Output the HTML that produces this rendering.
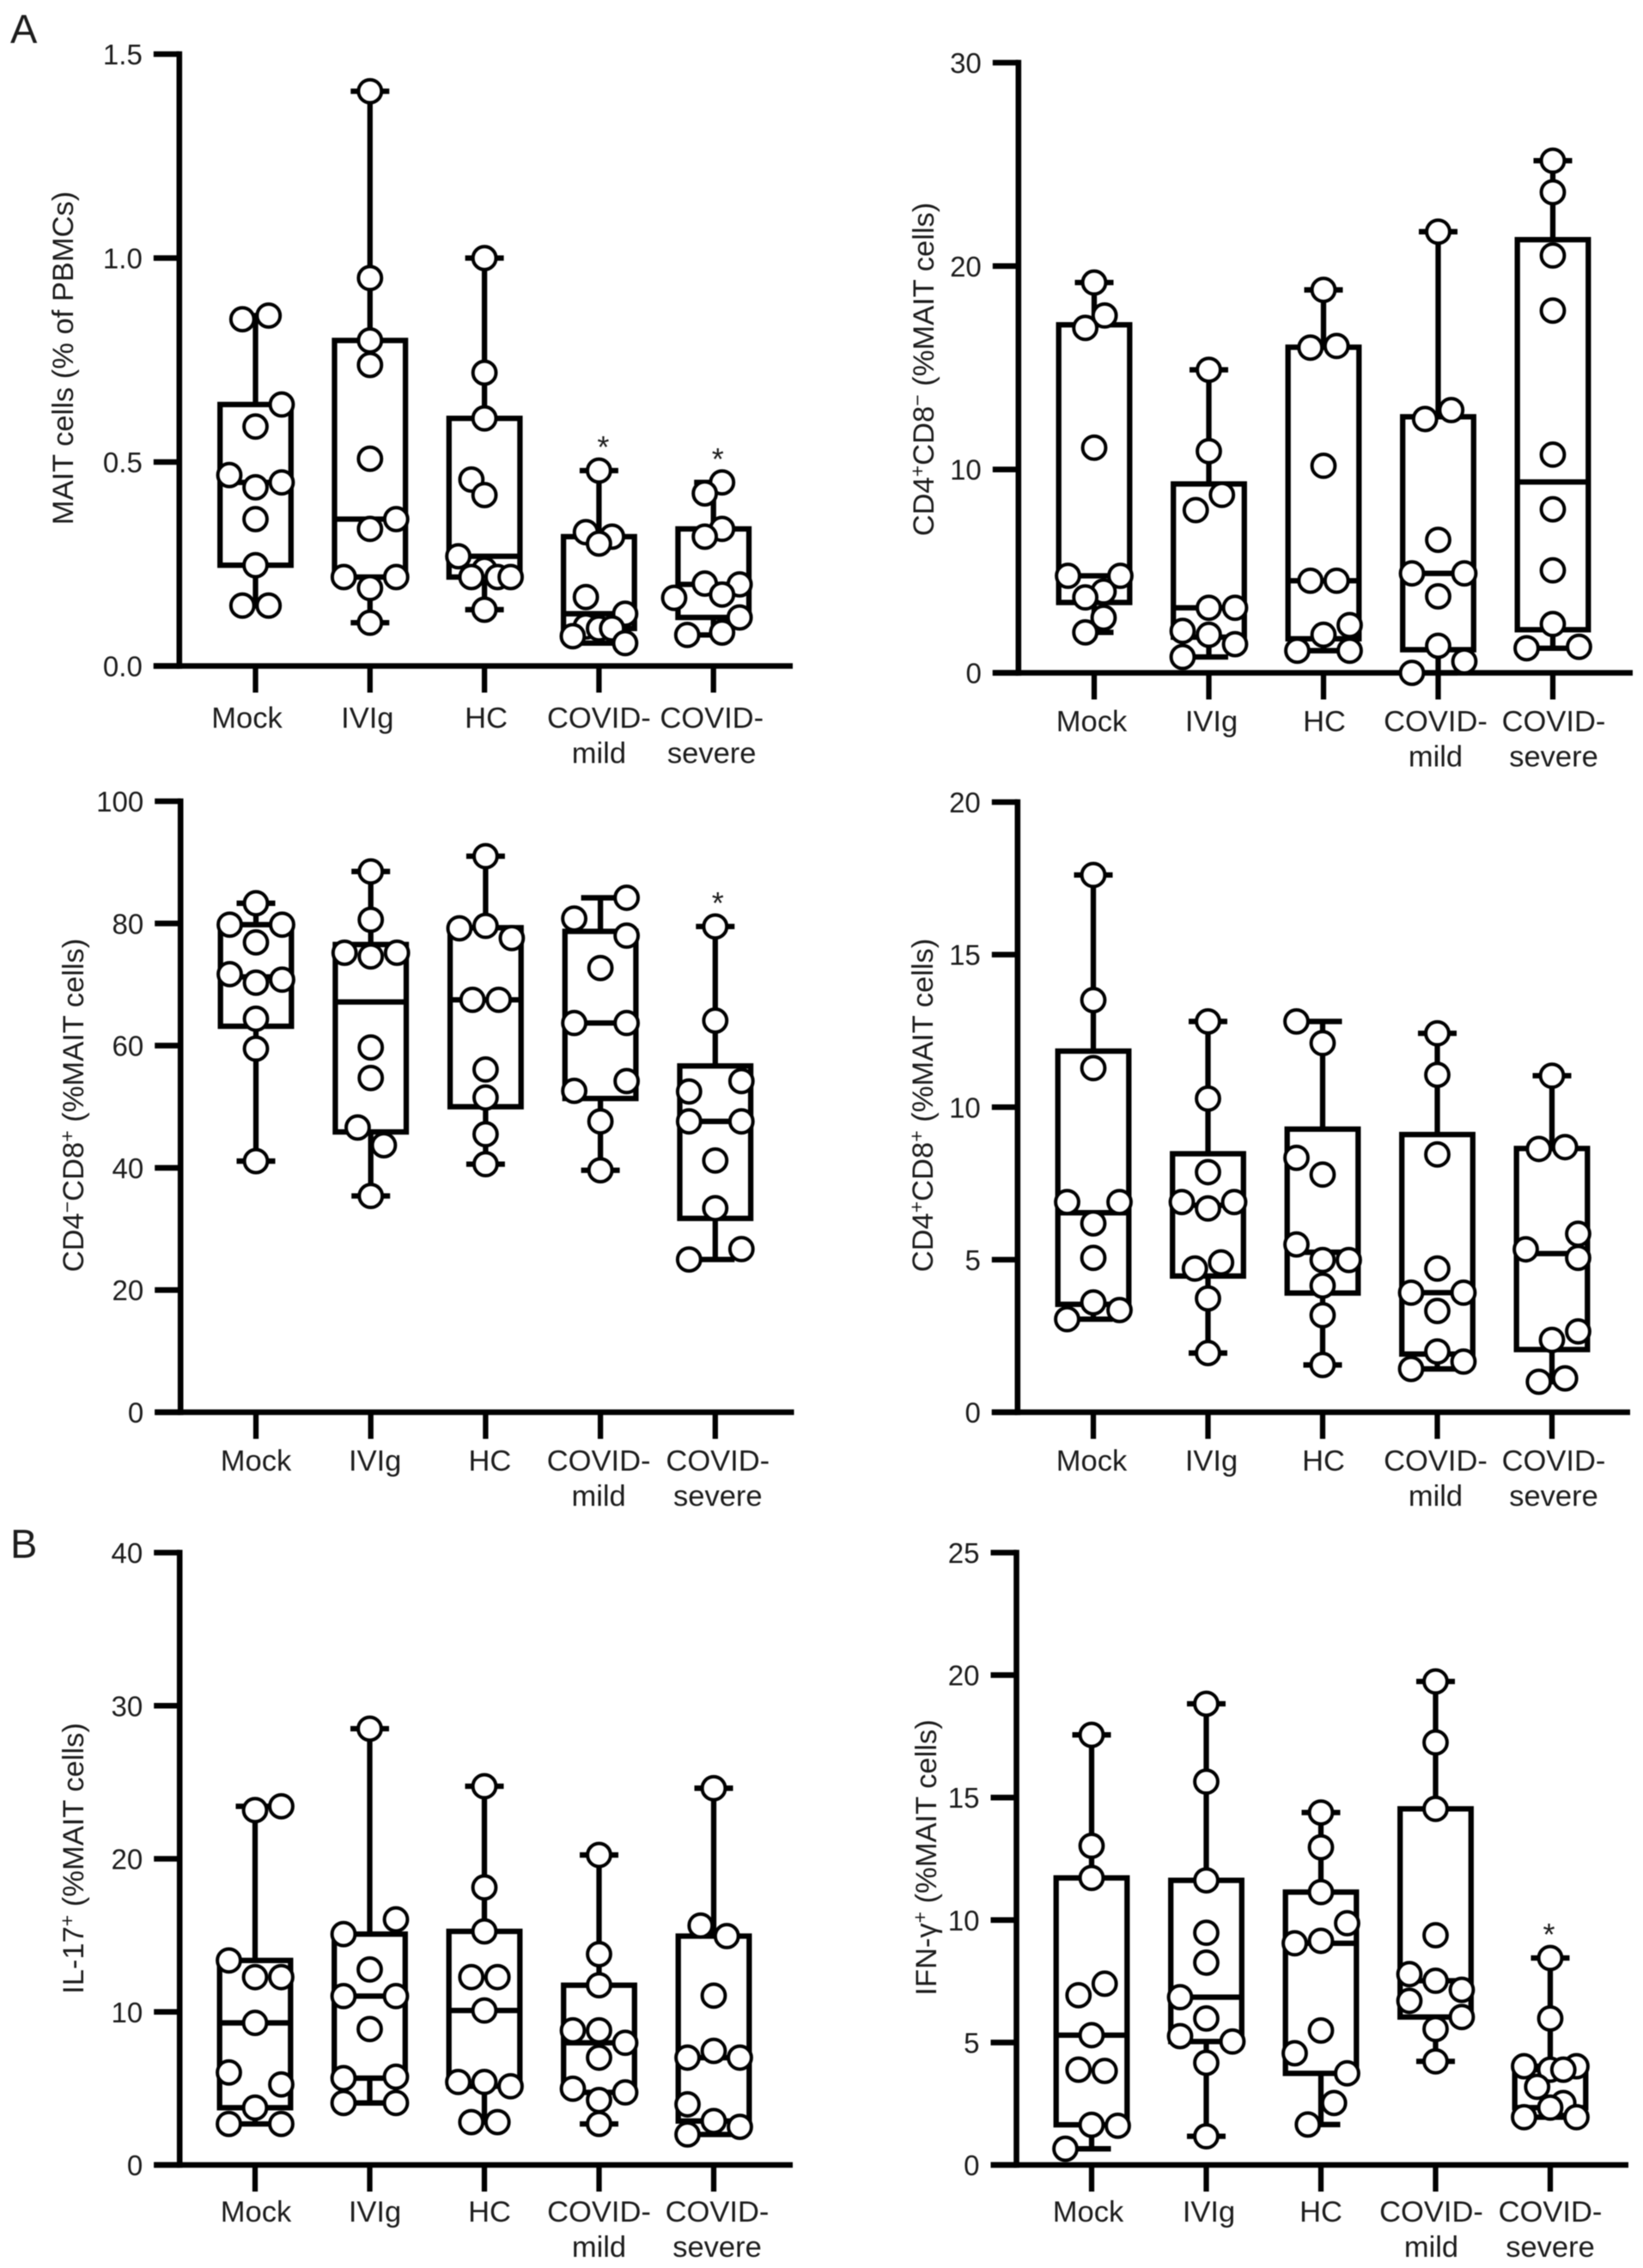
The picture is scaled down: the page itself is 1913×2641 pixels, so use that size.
<!DOCTYPE html>
<html lang="en">
<head>
<meta charset="utf-8">
<title>MAIT cell box plots</title>
<style>
html,body{margin:0;padding:0;background:#fff;}
#figure{display:block;width:1913px;height:2641px;filter:blur(0.6px);}
text{font-family:"Liberation Sans",sans-serif;fill:#1c1c1c;}
</style>
</head>
<body>
<svg id="figure" xmlns="http://www.w3.org/2000/svg" width="1913" height="2641" viewBox="0 0 1913 2641">
<rect width="1913" height="2641" fill="#fff"/>
<text x="12" y="50" font-size="47">A</text>
<text x="12" y="1814" font-size="47">B</text>
</svg>
<script>
const categories = [['Mock'],['IVIg'],['HC'],['COVID-','mild'],['COVID-','severe']];

const maitTicks = ['0.0','0.5','1.0','1.5'];
const maitValues = [
  [.859,.85,.641,.587,.468,.45,.438,.36,.247,.148,.148],
  [1.409,.951,.798,.738,.508,.36,.336,.218,.218,.191,.106],
  [1.0,.719,.607,.457,.419,.269,.236,.218,.218,.218,.138],
  [.479,.328,.317,.30,.169,.128,.097,.092,.092,.073,.056],
  [.45,.423,.336,.317,.202,.2,.175,.167,.119,.082,.076]
];
const maitDodge = [
  [.5,-.5,1,0,-1,1,0,0,0,-.5,.5],
  [0,0,0,0,0,1,0,-1,1,0,0],
  [0,0,0,-.5,0,-1,0,-.5,.5,1,0],
  [0,-.5,.5,0,-.5,1,-.5,0,.5,-1,1],
  [.33,-.33,.33,-.33,-.33,1,.33,-1.5,1,.33,-1]
];
const maitStars = [3,4];

const cd4posTicks = ['0','10','20','30'];
const cd4posValues = [
  [19.19,17.57,16.96,11.07,4.77,4.77,4.0,3.71,2.71,1.99],
  [14.9,10.9,8.75,8.0,3.2,3.2,2.06,1.87,1.41,.78],
  [18.83,16.07,15.99,10.18,4.53,4.53,2.35,1.87,1.09,1.09],
  [21.69,12.92,12.48,6.54,4.89,4.89,3.76,1.33,.56,0],
  [25.18,23.63,20.52,17.81,10.73,8.04,5.04,2.4,1.28,1.21]
];
const cd4posDodge = [
  [0,.4,-.34,0,-1,1,.36,-.34,.36,-.34],
  [0,0,.5,-.5,0,1,-1,0,1,-1],
  [0,.5,-.5,0,-.5,.5,1,0,-1,1],
  [0,.5,-.5,0,-1,1,0,0,1,-1],
  [0,0,0,0,0,0,0,0,1,-1]
];
const cd4posStars = [];

const cd8posTicks = ['0','20','40','60','80','100'];
const cd8posValues = [
  [83.3,79.8,79.8,76.9,71.7,70.8,70.3,64.4,59.5,41.1],
  [88.5,80.6,75.2,75.2,74.6,59.7,54.7,46.6,43.7,35.4],
  [91,79.6,79.2,77.6,67.5,67.5,56.1,51.5,45.5,40.6],
  [84.2,80.8,78,72.7,63.7,63.7,54.2,52.6,47.6,39.6],
  [79.5,64.1,54.2,52.5,47.6,47.6,41.2,33.4,26.7,25]
];
const cd8posDodge = [
  [0,-1,1,0,-1,1,0,0,0,0],
  [0,0,-1,1,0,0,0,-.5,.5,0],
  [0,0,-1,1,-.5,.5,0,0,0,0],
  [1,-1,1,0,-1,1,1,-1,0,0],
  [0,0,1,-1,-1,1,0,0,1,-1]
];
const cd8posStars = [4];

const doublePosTicks = ['0','5','10','15','20'];
const doublePosValues = [
  [17.61,13.51,11.28,6.89,6.89,6.19,5.06,3.6,3.35,3.05],
  [12.81,10.28,7.87,6.89,6.89,6.68,4.91,4.71,3.73,1.94],
  [12.81,12.1,8.34,7.79,5.5,4.99,4.99,4.15,3.18,1.55],
  [12.42,11.06,8.45,4.71,3.92,3.92,3.32,1.99,1.66,1.42],
  [11.03,8.69,8.63,5.85,5.34,5.06,2.65,2.37,1.11,1.0]
];
const doublePosDodge = [
  [0,0,0,-1,1,0,0,0,1,-1],
  [0,0,0,-1,1,0,.5,-.5,0,0],
  [-1,0,-1,0,-1,0,1,0,0,0],
  [0,0,0,0,-1,1,0,0,1,-1],
  [0,.5,-.5,1,-1,1,1,0,.5,-.5]
];
const doublePosStars = [];

const il17Ticks = ['0','10','20','30','40'];
const il17Values = [
  [23.43,23.18,13.36,12.27,12.27,9.28,6.04,5.26,3.74,2.68,2.68],
  [28.5,16.04,15.08,12.77,11.03,11.03,8.88,5.76,5.67,4.05,4.05],
  [24.74,18.13,15.26,12.27,12.27,10.09,5.42,5.42,5.14,2.8,2.8],
  [20.25,13.77,11.74,8.79,8.79,7.98,7.01,4.98,4.74,4.24,2.68],
  [24.61,15.64,14.95,11.06,7.45,7.01,7.01,3.96,2.87,2.49,1.99]
];
const il17Dodge = [
  [1,0,-1,0,1,0,-1,1,0,-1,1],
  [0,1,-1,0,-1,1,0,1,-1,-1,1],
  [0,0,0,-.5,.5,0,-1,0,1,-.5,.5],
  [0,0,0,-1,0,1,0,-1,1,0,0],
  [0,-.5,.5,0,0,-1,1,-1,0,1,-1]
];
const il17Stars = [];

const ifngTicks = ['0','5','10','15','20','25'];
const ifngValues = [
  [17.56,13.03,11.72,7.4,6.93,5.3,3.89,3.84,1.64,1.6,.66],
  [18.83,15.65,11.62,9.48,8.26,6.85,5.98,5.26,5.04,4.17,1.17],
  [14.39,12.97,11.14,9.87,9.15,9.05,5.49,4.56,3.74,2.53,1.65],
  [19.74,17.25,14.54,9.38,7.79,7.52,7.15,6.7,6.04,5.55,4.23],
  [8.45,5.98,4.03,4.03,3.89,3.89,3.19,2.53,2.34,1.95,1.95]
];
const ifngDodge = [
  [0,0,0,.5,-.5,0,-.5,.5,0,1,-1],
  [0,0,0,0,0,-1,0,-1,1,0,0],
  [0,0,0,1,0,-1,0,-1,1,.5,-.5],
  [0,0,0,0,-1,0,1,-1,1,0,0],
  [0,0,-1,1,0,.5,-.5,.5,0,-1,1]
];
const ifngStars = [4];

const SVG_NS = 'http://www.w3.org/2000/svg';
const svgRoot = document.getElementById('figure');

function node(parent, tag, attrs) {
  const el = document.createElementNS(SVG_NS, tag);
  for (const k in attrs) el.setAttribute(k, attrs[k]);
  parent.appendChild(el);
  return el;
}

function percentile(sortedAsc, p) {
  const n = sortedAsc.length;
  const rank = Math.min(Math.max((n + 1) * p, 1), n);
  const lo = Math.floor(rank);
  const hi = Math.min(lo + 1, n);
  return sortedAsc[lo - 1] + (rank - lo) * (sortedAsc[hi - 1] - sortedAsc[lo - 1]);
}

function drawPanel(cfg) {
  const tickValues = cfg.ticks.map(parseFloat);
  const yMax = tickValues[tickValues.length - 1];
  const yScale = v => cfg.y0 - (v / yMax) * (cfg.y0 - cfg.yTop);
  const xScale = i => cfg.x0 + i * cfg.step;
  const DOT = 30.5, R = 13.4, BOX = 41.3, CAP = 22.5, AXIS_W = 6.6, LINE_W = 6.3;

  const panel = node(svgRoot, 'g', {});
  
  

  const yAxis = node(panel, 'line', {x1: cfg.axisX, x2: cfg.axisX, y1: cfg.yTop - AXIS_W / 2, y2: cfg.y0 + AXIS_W / 2, stroke: '#000', 'stroke-width': AXIS_W});
  
  

  const xAxis = node(panel, 'line', {x1: cfg.axisX - 30, x2: cfg.axisRight, y1: cfg.y0, y2: cfg.y0, stroke: '#000', 'stroke-width': AXIS_W});
  
  

  cfg.ticks.forEach((lab, t) => {
    const y = yScale(tickValues[t]);
    const tick = node(panel, 'line', {x1: cfg.axisX - 30, x2: cfg.axisX, y1: y, y2: y, stroke: '#000', 'stroke-width': AXIS_W});
    
    
    const label = node(panel, 'text', {x: cfg.axisX - 43, y: y + 12, 'text-anchor': 'end', 'font-size': 33});
    
    
    label.textContent = lab;
  });

  categories.forEach((lines, i) => {
    const x = xScale(i);
    const tick = node(panel, 'line', {x1: x, x2: x, y1: cfg.y0, y2: cfg.y0 + 31, stroke: '#000', 'stroke-width': LINE_W});
    
    
    lines.forEach((txt, l) => {
      const label = node(panel, 'text', {x: x + cfg.labelDx[i], y: cfg.y0 + cfg.labelY + l * 41, 'text-anchor': 'middle', 'font-size': 34.5});
      
      
      label.textContent = txt;
    });
  });

  const title = node(panel, 'text', {transform: 'translate(' + cfg.titleX + ',' + cfg.titleY + ') rotate(-90)', 'text-anchor': 'middle', 'font-size': 34.5});
  
  
  cfg.title.forEach(part => {
    const sp = node(title, 'tspan', {});
    
    
    if (part.sup) {
      sp.setAttribute('font-size', '23');
      sp.setAttribute('dy', '-11');
    } else if (part.after) {
      sp.setAttribute('dy', '11');
    }
    sp.textContent = part.t;
  });

  cfg.values.forEach((vals, i) => {
    const x = xScale(i);
    const asc = vals.slice().sort((a, b) => a - b);
    const minV = asc[0], maxV = asc[asc.length - 1];
    const q1 = percentile(asc, .25), med = percentile(asc, .5), q3 = percentile(asc, .75);

    const group = node(panel, 'g', {stroke: '#000', fill: 'none'});
    
    

    const whiskerUp = node(group, 'line', {x1: x, x2: x, y1: yScale(q3), y2: yScale(maxV), 'stroke-width': LINE_W});
    
    
    const whiskerDown = node(group, 'line', {x1: x, x2: x, y1: yScale(q1), y2: yScale(minV), 'stroke-width': LINE_W});
    
    
    const capUp = node(group, 'line', {x1: x - CAP, x2: x + CAP, y1: yScale(maxV), y2: yScale(maxV), 'stroke-width': LINE_W});
    
    
    const capDown = node(group, 'line', {x1: x - CAP, x2: x + CAP, y1: yScale(minV), y2: yScale(minV), 'stroke-width': LINE_W});
    
    

    const box = node(group, 'rect', {x: x - BOX, width: 2 * BOX, y: yScale(q3), height: yScale(q1) - yScale(q3), 'stroke-width': LINE_W});
    
    
    const medLine = node(group, 'line', {x1: x - BOX, x2: x + BOX, y1: yScale(med), y2: yScale(med), 'stroke-width': LINE_W});
    
    

    vals.forEach((v, p) => {
      const dot = node(group, 'circle', {cx: x + cfg.dodge[i][p] * DOT, cy: yScale(v), r: R, fill: '#fff', 'stroke-width': 4});
      
      
    });

    if (cfg.stars.includes(i)) {
      const star = node(panel, 'text', {x: x + cfg.starDx, y: yScale(maxV) - 15, 'text-anchor': 'middle', 'font-size': 36});
      
      
      star.textContent = '*';
    }
  });
}

drawPanel({name: 'mait-percent', ticks: maitTicks, values: maitValues, dodge: maitDodge, stars: maitStars, starDx: 5,
  axisX: 208.8, axisRight: 923, yTop: 63, y0: 775.5, x0: 297.5, step: 133.3, labelY: 72, labelDx: [-10,-3,2,0,-2],
  titleX: 85, titleY: 417, title: [{t: 'MAIT cells (% of PBMCs)'}]});
drawPanel({name: 'cd4-pos-cd8-neg', ticks: cd4posTicks, values: cd4posValues, dodge: cd4posDodge, stars: cd4posStars, starDx: 0,
  axisX: 1185.8, axisRight: 1901, yTop: 73, y0: 783.5, x0: 1274, step: 133.5, labelY: 68, labelDx: [-3,3,1,-3,1],
  titleX: 1087, titleY: 430, title: [{t: 'CD4'},{t: '+', sup: true},{t: 'CD8', after: true},{t: '−', sup: true},{t: ' (%MAIT cells)', after: true}]});
drawPanel({name: 'cd4-neg-cd8-pos', ticks: cd8posTicks, values: cd8posValues, dodge: cd8posDodge, stars: cd8posStars, starDx: 3,
  axisX: 210.2, axisRight: 924.5, yTop: 933, y0: 1644.5, x0: 298, step: 133.7, labelY: 68, labelDx: [0,5,5,-2,3],
  titleX: 97, titleY: 1287, title: [{t: 'CD4'},{t: '−', sup: true},{t: 'CD8', after: true},{t: '+', sup: true},{t: ' (%MAIT cells)', after: true}]});
drawPanel({name: 'cd4-pos-cd8-pos', ticks: doublePosTicks, values: doublePosValues, dodge: doublePosDodge, stars: doublePosStars, starDx: 0,
  axisX: 1184.8, axisRight: 1898, yTop: 934, y0: 1644.5, x0: 1273, step: 133.5, labelY: 68, labelDx: [-2,4,1,-2,2],
  titleX: 1086, titleY: 1287, title: [{t: 'CD4'},{t: '+', sup: true},{t: 'CD8', after: true},{t: '+', sup: true},{t: ' (%MAIT cells)', after: true}]});
drawPanel({name: 'il-17', ticks: il17Ticks, values: il17Values, dodge: il17Dodge, stars: il17Stars, starDx: 0,
  axisX: 209.2, axisRight: 923, yTop: 1808, y0: 2521, x0: 297, step: 133.5, labelY: 66, labelDx: [1,6,6,0,4],
  titleX: 97, titleY: 2164, title: [{t: 'IL-17'},{t: '+', sup: true},{t: ' (%MAIT cells)', after: true}]});
drawPanel({name: 'ifn-gamma', ticks: ifngTicks, values: ifngValues, dodge: ifngDodge, stars: ifngStars, starDx: -1.5,
  axisX: 1183.5, axisRight: 1896, yTop: 1808, y0: 2521, x0: 1271, step: 133.5, labelY: 66, labelDx: [-4,3,0,-5,0],
  titleX: 1090, titleY: 2163, title: [{t: 'IFN-γ'},{t: '+', sup: true},{t: ' (%MAIT cells)', after: true}]});
</script>
</body>
</html>
